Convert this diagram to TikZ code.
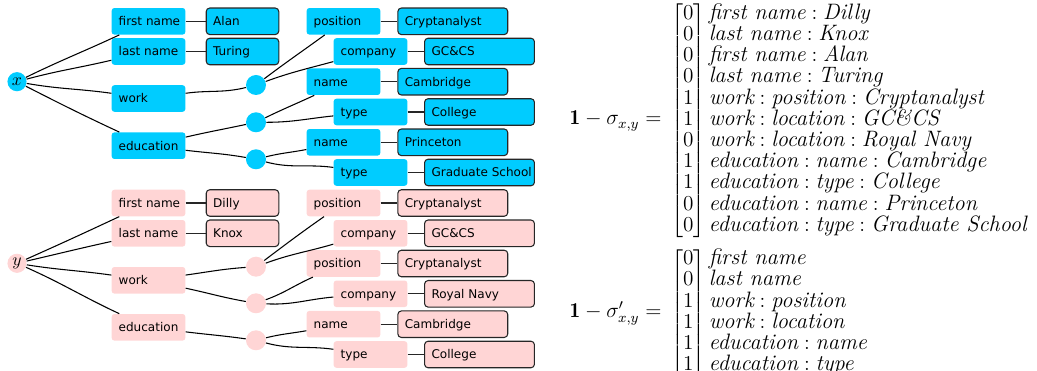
\documentclass[tikz,border=0pt]{standalone}
\usepackage{fontspec}
\newfontfamily\dv{DejaVu Sans}
\definecolor{cblue}{RGB}{0,204,255}
\definecolor{cpink}{RGB}{255,213,213}
\newcommand{\rowtxt}[1]{\smash{#1}}
\begin{document}
\begin{tikzpicture}[x=0.565pt,y=-0.565pt,
  base/.style={inner xsep=3.95pt, inner ysep=0pt, minimum height=15pt,
    font=\dv\fontsize{6.8}{8}\selectfont, text height=6pt, text depth=1pt},
  lab/.style={base, fill=#1, rounded corners=1.5pt,
    execute at begin node={\hbox to 33.7pt\bgroup}, execute at end node={\hss\egroup}},
  val/.style={base, fill=#1, draw=black!85, line width=0.6pt, rounded corners=2pt,
    execute at begin node={\hbox to 33.1pt\bgroup}, execute at end node={\hss\egroup}},
  valw/.style={base, fill=#1, draw=black!85, line width=0.6pt, rounded corners=2pt,
    execute at begin node={\hbox to 54.2pt\bgroup}, execute at end node={\hss\egroup}},
  dot/.style={circle, fill=#1, inner sep=0pt, minimum size=11.3pt},
  root/.style={circle, fill=#1, inner sep=0pt, minimum size=10.8pt},
  conn/.style={line width=0.6pt, black},
  link/.style={line width=0.6pt, black!85},
  eq/.style={inner sep=0pt, font=\fontsize{12}{12}\selectfont},
  vec/.style={inner sep=0pt, font=\fontsize{12.6}{12}\selectfont}]
\useasboundingbox (0,0) rectangle (1037,371);

% ---------------- top tree (x) ----------------
\node[root=cblue] (x) at (17,81.7) {$x$};
\node[lab=cblue] (fnA) at (148.5,21.3) {first name};
\node[lab=cblue] (lnA) at (148.5,51.5) {last name};
\node[lab=cblue] (wkA) at (148.5,98.5) {work};
\node[lab=cblue] (edA) at (148.5,145.7) {education};
\node[val=cblue] (alan) at (242.5,21.3) {Alan};
\node[val=cblue] (turing) at (242.5,51.5) {Turing};
\node[dot=cblue] (c1) at (256,85) {};
\node[dot=cblue] (c2) at (256,122.3) {};
\node[dot=cblue] (c3) at (256,159.3) {};
\node[lab=cblue] (posA) at (343.5,21.3) {position};
\node[valw=cblue] (crA) at (452.8,21.3) {Cryptanalyst};
\node[lab=cblue] (coA) at (370.5,51.5) {company};
\node[valw=cblue] (gcA) at (479.5,51.5) {GC\&CS};
\node[lab=cblue] (naA) at (343.5,81.7) {name};
\node[valw=cblue] (cambA) at (452.8,81.7) {Cambridge};
\node[lab=cblue] (tyA) at (370.5,112) {type};
\node[valw=cblue] (colA) at (479.5,112) {College};
\node[lab=cblue] (nbA) at (343.5,142.3) {name};
\node[valw=cblue] (prA) at (452.8,142.3) {Princeton};
\node[lab=cblue] (tbA) at (370.5,172.5) {type};
\node[valw=cblue] (gsA) at (479.5,172.5) {Graduate School};

\draw[conn] (x) to[out=26,in=205] (fnA);
\draw[conn] (x) to[out=15,in=193.5] (lnA);
\draw[conn] (x) to[out=-10,in=172] (wkA);
\draw[conn] (x) to[out=-27,in=155] (edA);
\draw[conn] (wkA) to[out=8,in=194] (c1);
\draw[conn] (edA) to[out=13,in=192] (c2);
\draw[conn] (edA) to[out=-7,in=170] (c3);
\draw[conn] (c1) to[out=37,in=216] (posA);
\draw[conn] (c1) to[out=20,in=195.5] (coA);
\draw[conn] (c2) to[out=26,in=205] (naA);
\draw[conn] (c2) to[out=0,in=186] (tyA);
\draw[conn] (c3) to[out=14,in=191] (nbA);
\draw[conn] (c3) to[out=-15,in=172.5] (tbA);
\draw[link] (fnA) -- (alan);
\draw[link] (lnA) -- (turing);
\draw[link] (posA) -- (crA);
\draw[link] (coA) -- (gcA);
\draw[link] (naA) -- (cambA);
\draw[link] (tyA) -- (colA);
\draw[link] (nbA) -- (prA);
\draw[link] (tbA) -- (gsA);

% ---------------- bottom tree (y) ----------------
\node[root=cpink] (y) at (17,263.3) {$y$};
\node[lab=cpink] (fnB) at (148.5,203) {first name};
\node[lab=cpink] (lnB) at (148.5,233.3) {last name};
\node[lab=cpink] (wkB) at (148.5,280.3) {work};
\node[lab=cpink] (edB) at (148.5,327.3) {education};
\node[val=cpink] (dilly) at (242.5,203) {Dilly};
\node[val=cpink] (knox) at (242.5,233.3) {Knox};
\node[dot=cpink] (d1) at (256,266.7) {};
\node[dot=cpink] (d2) at (256,303.3) {};
\node[dot=cpink] (d3) at (256,340.3) {};
\node[lab=cpink] (posB) at (343.5,203) {position};
\node[valw=cpink] (crB) at (452.8,203) {Cryptanalyst};
\node[lab=cpink] (coB) at (370.5,233.3) {company};
\node[valw=cpink] (gcB) at (479.5,233.3) {GC\&CS};
\node[lab=cpink] (posC) at (343.5,263.5) {position};
\node[valw=cpink] (crC) at (452.8,263.5) {Cryptanalyst};
\node[lab=cpink] (coC) at (370.5,293.8) {company};
\node[valw=cpink] (rnB) at (479.5,293.8) {Royal Navy};
\node[lab=cpink] (naB) at (343.5,324.2) {name};
\node[valw=cpink] (cambB) at (452.8,324.2) {Cambridge};
\node[lab=cpink] (tyB) at (370.5,354.5) {type};
\node[valw=cpink] (colB) at (479.5,354.5) {College};

\draw[conn] (y) to[out=24,in=205] (fnB);
\draw[conn] (y) to[out=13,in=192.8] (lnB);
\draw[conn] (y) to[out=-9,in=172] (wkB);
\draw[conn] (y) to[out=-24,in=155] (edB);
\draw[conn] (wkB) to[out=8,in=184] (d1);
\draw[conn] (wkB) to[out=-12,in=170] (d2);
\draw[conn] (edB) to[out=-7,in=172] (d3);
\draw[conn] (d1) to[out=37,in=215] (posB);
\draw[conn] (d1) to[out=20,in=196.7] (coB);
\draw[conn] (d2) to[out=20,in=204] (posC);
\draw[conn] (d2) to[out=-3,in=185] (coC);
\draw[conn] (d3) to[out=14,in=190] (naB);
\draw[conn] (d3) to[out=-15,in=172] (tyB);
\draw[link] (fnB) -- (dilly);
\draw[link] (lnB) -- (knox);
\draw[link] (posB) -- (crB);
\draw[link] (coB) -- (gcB);
\draw[link] (posC) -- (crC);
\draw[link] (coC) -- (rnB);
\draw[link] (naB) -- (cambB);
\draw[link] (tyB) -- (colB);

% ---------------- vectors ----------------
\node[eq, anchor=base east] (lhs1) at (662,125)
  {$\mathbf{1}-\sigma_{x,y}=$};
\node[vec, anchor=west] (vx) at (671,121) {$%
 \left[\begin{array}{@{}c@{}}0\\0\\0\\0\\1\\1\\0\\1\\1\\0\\0\end{array}\right]
 \begin{array}{@{}l@{}}
 \rowtxt{\textit{first name} : \textit{Dilly}}\\
 \rowtxt{\textit{last name} : \textit{Knox}}\\
 \rowtxt{\textit{first name} : \textit{Alan}}\\
 \rowtxt{\textit{last name} : \textit{Turing}}\\
 \rowtxt{\textit{work} : \textit{position} : \textit{Cryptanalyst}}\\
 \rowtxt{\textit{work} : \textit{location} : \textit{GC\&CS}}\\
 \rowtxt{\textit{work} : \textit{location} : \textit{Royal Navy}}\\
 \rowtxt{\textit{education} : \textit{name} : \textit{Cambridge}}\\
 \rowtxt{\textit{education} : \textit{type} : \textit{College}}\\
 \rowtxt{\textit{education} : \textit{name} : \textit{Princeton}}\\
 \rowtxt{\textit{education} : \textit{type} : \textit{Graduate School}}
 \end{array}$};
\node[eq, anchor=base east] (lhs2) at (662,317.5)
  {$\mathbf{1}-\sigma'_{x,y}=$};
\node[vec, anchor=west] (vxp) at (671,313.5) {$%
 \left[\begin{array}{@{}c@{}}0\\0\\1\\1\\1\\1\end{array}\right]
 \begin{array}{@{}l@{}}
 \rowtxt{\textit{first name}}\\
 \rowtxt{\textit{last name}}\\
 \rowtxt{\textit{work} : \textit{position}}\\
 \rowtxt{\textit{work} : \textit{location}}\\
 \rowtxt{\textit{education} : \textit{name}}\\
 \rowtxt{\textit{education} : \textit{type}}
 \end{array}$};
\end{tikzpicture}
\end{document}
